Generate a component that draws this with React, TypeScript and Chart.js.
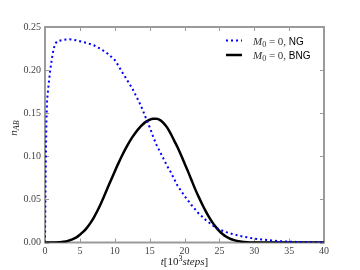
import React, { useEffect, useRef } from "react";
import { Chart, registerables } from "chart.js";
Chart.register(...registerables);

const NG_T = [0, 0.05, 0.1, 0.2, 0.3, 0.5, 0.75, 1.0, 1.25, 1.5, 1.75, 2, 2.5, 3, 3.5, 4, 4.5, 5, 6, 7, 8, 9, 10, 10.5, 11, 11.5, 12, 12.5, 13, 13.5, 14, 14.5, 15, 15.5, 16, 16.5, 17, 17.5, 18, 19, 20, 21, 22, 23, 24, 25, 26, 27, 28, 29, 30, 31, 32, 33, 34, 35, 36, 37, 38, 39, 40];
const NG_V = [0, 0.045, 0.085, 0.14, 0.165, 0.182, 0.2, 0.214, 0.225, 0.231, 0.2335, 0.234, 0.235, 0.2355, 0.2357, 0.2352, 0.2345, 0.2335, 0.2315, 0.2288, 0.2245, 0.219, 0.2117, 0.2055, 0.1985, 0.192, 0.1855, 0.179, 0.171, 0.163, 0.154, 0.1435, 0.134, 0.1227, 0.113, 0.105, 0.097, 0.089, 0.082, 0.066, 0.054, 0.0435, 0.034, 0.0265, 0.02, 0.015, 0.012, 0.0095, 0.0075, 0.006, 0.0045, 0.0035, 0.0027, 0.002, 0.0014, 0.001, 0.0007, 0.0005, 0.0003, 0.0002, 0.0001];

const BNG_T = [0, 1, 2, 3, 3.5, 4, 4.5, 5, 5.5, 6, 6.5, 7, 7.5, 8, 8.5, 9, 9.5, 10, 10.5, 11, 11.5, 12, 12.5, 13, 13.5, 14, 14.5, 15, 15.5, 16, 16.5, 17, 17.5, 18, 18.5, 19, 19.5, 20, 20.5, 21, 21.5, 22, 22.5, 23, 23.5, 24, 24.5, 25, 25.5, 26, 26.5, 27, 27.5, 28, 29, 30, 31, 35, 40];
const BNG_V = [0, 0, 0.0003, 0.0012, 0.0025, 0.004, 0.006, 0.009, 0.0125, 0.017, 0.0225, 0.029, 0.0365, 0.045, 0.0542, 0.0637, 0.0732, 0.0825, 0.0915, 0.1, 0.108, 0.1153, 0.1219, 0.1277, 0.1327, 0.1369, 0.1402, 0.1424, 0.1436, 0.1435, 0.142, 0.1385, 0.1335, 0.1265, 0.1185, 0.1105, 0.1015, 0.092, 0.0825, 0.0725, 0.0625, 0.0535, 0.045, 0.037, 0.0297, 0.0233, 0.0178, 0.0132, 0.0095, 0.0066, 0.0045, 0.003, 0.0019, 0.0012, 0.0004, 0.0001, 0, 0, 0];

const X_TICKS = [0, 5, 10, 15, 20, 25, 30, 35, 40];
const Y_TICKS = [0, 0.05, 0.1, 0.15, 0.2, 0.25];
const SERIES_NAMES = ["NG", "BNG"];
const SERIES_COLORS = ["#0000ff", "#000000"];
const LEGEND_PREFIX = ["M", "0", " = 0, "];
const X_TITLE = ["t", "[10", "3", "steps", "]"];
const Y_TITLE = ["n", "AB"];

const SERIF = "'Liberation Serif', 'DejaVu Serif', serif";
const SANS = "'Liberation Sans', 'DejaVu Sans', sans-serif";

type Seg = { text: string; font: string; dy?: number; color?: string };

function drawRich(ctx: CanvasRenderingContext2D, segs: Seg[], x: number, y: number, align: "left" | "center") {
  let total = 0;
  for (const s of segs) {
    ctx.font = s.font;
    total += ctx.measureText(s.text).width;
  }
  let cx = align === "center" ? x - total / 2 : x;
  ctx.textBaseline = "alphabetic";
  ctx.textAlign = "left";
  for (const s of segs) {
    ctx.font = s.font;
    ctx.fillStyle = s.color || "#222";
    ctx.fillText(s.text, cx, y + (s.dy || 0));
    cx += ctx.measureText(s.text).width;
  }
}

const framePlugin = {
  id: "frame",
  beforeDatasetsDraw(chart: any) {
    const { ctx, chartArea: a, scales } = chart;
    ctx.save();
    ctx.strokeStyle = "#9a9a9a";
    ctx.lineWidth = 1;
    ctx.beginPath();
    X_TICKS.forEach((v) => {
      const px = Math.round(scales.x.getPixelForValue(v)) + 0.5;
      ctx.moveTo(px, a.bottom);
      ctx.lineTo(px, a.bottom - 4);
      ctx.moveTo(px, a.top);
      ctx.lineTo(px, a.top + 4);
    });
    Y_TICKS.forEach((v) => {
      const py = Math.round(scales.y.getPixelForValue(v)) + 0.5;
      ctx.moveTo(a.left, py);
      ctx.lineTo(a.left + 4, py);
      ctx.moveTo(a.right, py);
      ctx.lineTo(a.right - 4, py);
    });
    ctx.stroke();
    ctx.lineWidth = 2;
    ctx.strokeRect(a.left, a.top, a.right - a.left, a.bottom - a.top);
    ctx.restore();
  },
  afterDraw(chart: any) {
    const { ctx, chartArea: a } = chart;
    ctx.save();
    // legend
    for (let i = 0; i < SERIES_NAMES.length; i++) {
      const ly = 40.5 + i * 14.5;
      ctx.beginPath();
      ctx.strokeStyle = SERIES_COLORS[i];
      if (i === 0) {
        ctx.setLineDash([2, 3]);
        ctx.lineWidth = 2;
      } else {
        ctx.setLineDash([]);
        ctx.lineWidth = 2.5;
      }
      ctx.moveTo(226, ly);
      ctx.lineTo(242, ly);
      ctx.stroke();
      ctx.setLineDash([]);
      drawRich(
        ctx,
        [
          { text: LEGEND_PREFIX[0], font: `italic 11px ${SERIF}`, color: "#333" },
          { text: LEGEND_PREFIX[1], font: `8px ${SERIF}`, dy: 2, color: "#333" },
          { text: LEGEND_PREFIX[2], font: `11px ${SERIF}`, color: "#333" },
          { text: SERIES_NAMES[i], font: `10px ${SANS}`, color: "#000" },
        ],
        253,
        ly + 4,
        "left"
      );
    }
    // x title
    const cxm = (a.left + a.right) / 2;
    drawRich(
      ctx,
      [
        { text: X_TITLE[0], font: `italic 11px ${SERIF}` },
        { text: X_TITLE[1], font: `11px ${SERIF}` },
        { text: X_TITLE[2], font: `8px ${SERIF}`, dy: -4 },
        { text: X_TITLE[3], font: `italic 11px ${SERIF}` },
        { text: X_TITLE[4], font: `11px ${SERIF}` },
      ],
      cxm,
      265,
      "center"
    );
    // y title
    ctx.translate(17, 128);
    ctx.rotate(-Math.PI / 2);
    drawRich(
      ctx,
      [
        { text: Y_TITLE[0], font: `italic 11px ${SERIF}` },
        { text: Y_TITLE[1], font: `italic 8px ${SERIF}`, dy: 2 },
      ],
      0,
      0,
      "center"
    );
    ctx.restore();
  },
};

export default function App() {
  const ref = useRef<HTMLCanvasElement | null>(null);
  useEffect(() => {
    if (!ref.current) return;
    const chart = new Chart(ref.current, {
      type: "line",
      data: {
        datasets: [
          {
            label: SERIES_NAMES[0],
            data: NG_T.map((t, i) => ({ x: t, y: NG_V[i] })),
            borderColor: SERIES_COLORS[0],
            borderWidth: 2,
            borderDash: [2, 3],
            pointRadius: 0,
            tension: 0,
            fill: false,
          },
          {
            label: SERIES_NAMES[1],
            data: BNG_T.map((t, i) => ({ x: t, y: BNG_V[i] })),
            borderColor: SERIES_COLORS[1],
            borderWidth: 2.5,
            pointRadius: 0,
            cubicInterpolationMode: "monotone",
            fill: false,
          },
        ],
      },
      options: {
        animation: false,
        responsive: true,
        maintainAspectRatio: false,
        layout: { padding: { left: 0, right: 36, top: 27, bottom: 0 } },
        plugins: { legend: { display: false }, tooltip: { enabled: false } },
        scales: {
          x: {
            type: "linear",
            min: 0,
            max: 40,
            afterFit: (s: any) => {
              s.height = 27.5;
            },
            afterBuildTicks: (s: any) => {
              s.ticks = X_TICKS.map((v) => ({ value: v }));
            },
            ticks: {
              font: { family: SERIF, size: 10 },
              color: "#444",
              padding: 3,
              maxRotation: 0,
              autoSkip: false,
            },
            grid: { display: false, drawTicks: false },
            border: { display: false },
          },
          y: {
            type: "linear",
            min: 0,
            max: 0.25,
            afterFit: (s: any) => {
              s.width = 45;
            },
            afterBuildTicks: (s: any) => {
              s.ticks = Y_TICKS.map((v) => ({ value: v }));
            },
            ticks: {
              font: { family: SERIF, size: 10 },
              color: "#444",
              padding: 4,
              callback: (v: any) => Number(v).toFixed(2),
            },
            grid: { display: false, drawTicks: false },
            border: { display: false },
          },
        },
      },
      plugins: [framePlugin],
    } as any);
    return () => chart.destroy();
  }, []);
  return (
    <div style={{ position: "fixed", left: 0, top: 0, width: 360, height: 270, background: "#fff" }}>
      <canvas ref={ref} />
    </div>
  );
}
